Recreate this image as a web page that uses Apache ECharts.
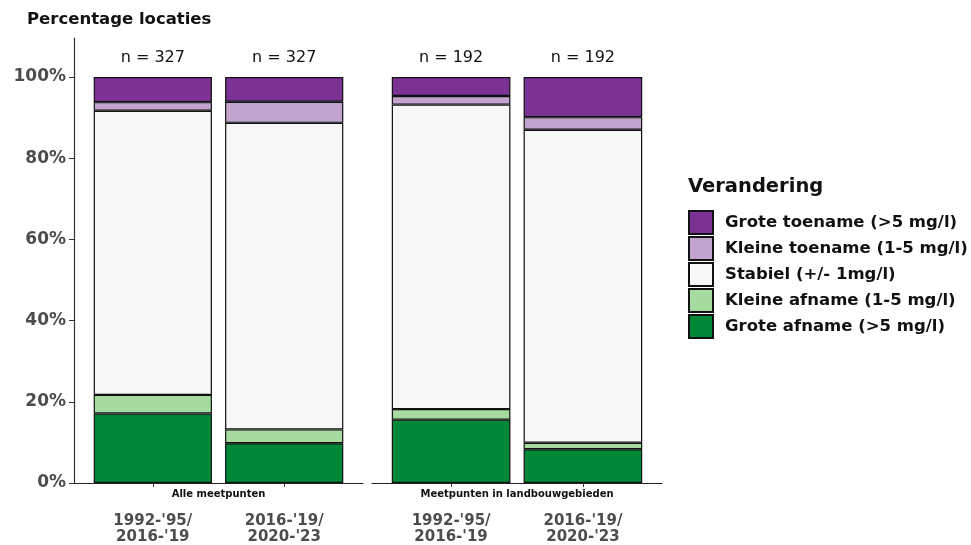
<!DOCTYPE html>
<html><head><meta charset="utf-8">
<script src="https://cdn.jsdelivr.net/npm/echarts@6/dist/echarts.min.js"></script>
<style>html,body{margin:0;padding:0;background:#fff}#c{width:971px;height:545px}</style>
</head><body><div id="c"></div>
<script>
// ---- data ----
const periods = ["1992-'95/\n2016-'19", "2016-'19/\n2020-'23"];
const panels = ["Alle meetpunten", "Meetpunten in landbouwgebieden"];
const nAlle = [327, 327];
const nLandbouw = [192, 192];
const categoryNames = ['Grote afname (>5 mg/l)', 'Kleine afname (1-5 mg/l)', 'Stabiel (+/- 1mg/l)', 'Kleine toename (1-5 mg/l)', 'Grote toename (>5 mg/l)'];
const categoryColors = ['#008837', '#A6DBA0', '#F7F7F7', '#C2A5CF', '#7B3294'];
// percentages (per period)
const alleGroteAfname = [17.1, 9.8];
const alleKleineAfname = [4.6, 3.4];
const alleStabiel = [70.0, 75.5];
const alleKleineToename = [2.1, 5.2];
const alleGroteToename = [6.2, 6.1];
const landGroteAfname = [15.6, 8.3];
const landKleineAfname = [2.6, 1.6];
const landStabiel = [75.0, 77.1];
const landKleineToename = [2.1, 3.1];
const landGroteToename = [4.7, 9.9];
const yTicks = [0, 20, 40, 60, 80, 100];

const panelData = [
  { n: nAlle, vals: [alleGroteAfname, alleKleineAfname, alleStabiel, alleKleineToename, alleGroteToename] },
  { n: nLandbouw, vals: [landGroteAfname, landKleineAfname, landStabiel, landKleineToename, landGroteToename] }
];

const FONT = 'DejaVu Sans';
const grids = [
  { left: 74, width: 289, top: 38, bottom: 62 },
  { left: 372, width: 290, top: 38, bottom: 62 }
];

const xAxes = grids.map((g, p) => ({
  type: 'value', gridIndex: p, min: 0.4, max: 2.6, offset: 22,
  axisLine: { show: true, lineStyle: { color: '#222', width: 1.2 } },
  axisTick: { show: true, length: 4, lineStyle: { color: '#333' }, customValues: [1, 2] },
  splitLine: { show: false },
  axisLabel: {
    customValues: [1, 2],
    formatter: v => periods[Math.round(v) - 1] || '',
    fontFamily: FONT, fontWeight: 'bold', fontSize: 15, color: '#4D4D4D',
    lineHeight: 16, margin: 8
  }
}));

const yAxes = grids.map((g, p) => ({
  type: 'value', gridIndex: p, min: 0, max: 109.6, show: p === 0,
  axisLine: { show: p === 0, lineStyle: { color: '#333', width: 1.2 } },
  axisTick: { show: p === 0, length: 5, lineStyle: { color: '#333' }, customValues: yTicks },
  splitLine: { show: false },
  axisLabel: {
    show: p === 0, customValues: yTicks,
    formatter: v => v + '%',
    fontFamily: FONT, fontWeight: 'bold', fontSize: 17, color: '#4D4D4D', margin: 8,
    padding: [3, 0, 0, 0]
  }
}));

const series = [];
panelData.forEach((pd, p) => {
  pd.vals.forEach((arr, k) => {
    const s = {
      type: 'bar', name: categoryNames[k], xAxisIndex: p, yAxisIndex: p,
      stack: 'panel' + p, barWidth: '90%',
      data: arr.map((v, i) => [v, i + 1]),
      encode: { x: 1, y: 0 },
      itemStyle: { color: categoryColors[k], borderColor: '#111', borderWidth: 1.2 },
      emphasis: { disabled: true },
      animation: false
    };
    if (k === pd.vals.length - 1) {
      s.label = {
        show: true, position: 'top', distance: 10,
        formatter: prm => 'n = ' + pd.n[prm.dataIndex],
        fontFamily: FONT, fontSize: 16, color: '#111', lineHeight: 18
      };
    }
    series.push(s);
  });
});

const chart = echarts.init(document.getElementById('c'), null, { renderer: 'canvas' });
chart.setOption({
  animation: false,
  textStyle: { fontFamily: FONT },
  grid: grids,
  xAxis: xAxes,
  yAxis: yAxes,
  legend: {
    data: categoryNames.slice().reverse(),
    orient: 'vertical', left: 688, top: 210, padding: 0,
    icon: 'rect',
    itemWidth: 24, itemHeight: 23, itemGap: 1,
    selectedMode: false,
    textStyle: { fontFamily: FONT, fontWeight: 'bold', fontSize: 16.5, color: '#111', lineHeight: 20, padding: [0, 0, 0, 7] }
  },
  graphic: [
    { type: 'text', left: 27, top: 11, style: { text: 'Percentage locaties', font: 'bold 16.5px "DejaVu Sans"', fill: '#111' } },
    { type: 'text', left: 688, top: 177, style: { text: 'Verandering', font: 'bold 19.5px "DejaVu Sans"', fill: '#111' } },
    { type: 'text', x: 218.5, y: 494, style: { text: panels[0], font: 'bold 10px "DejaVu Sans"', fill: '#111', align: 'center', verticalAlign: 'middle' } },
    { type: 'text', x: 517, y: 494, style: { text: panels[1], font: 'bold 10px "DejaVu Sans"', fill: '#111', align: 'center', verticalAlign: 'middle' } }
  ],
  series: series
});
</script></body></html>
